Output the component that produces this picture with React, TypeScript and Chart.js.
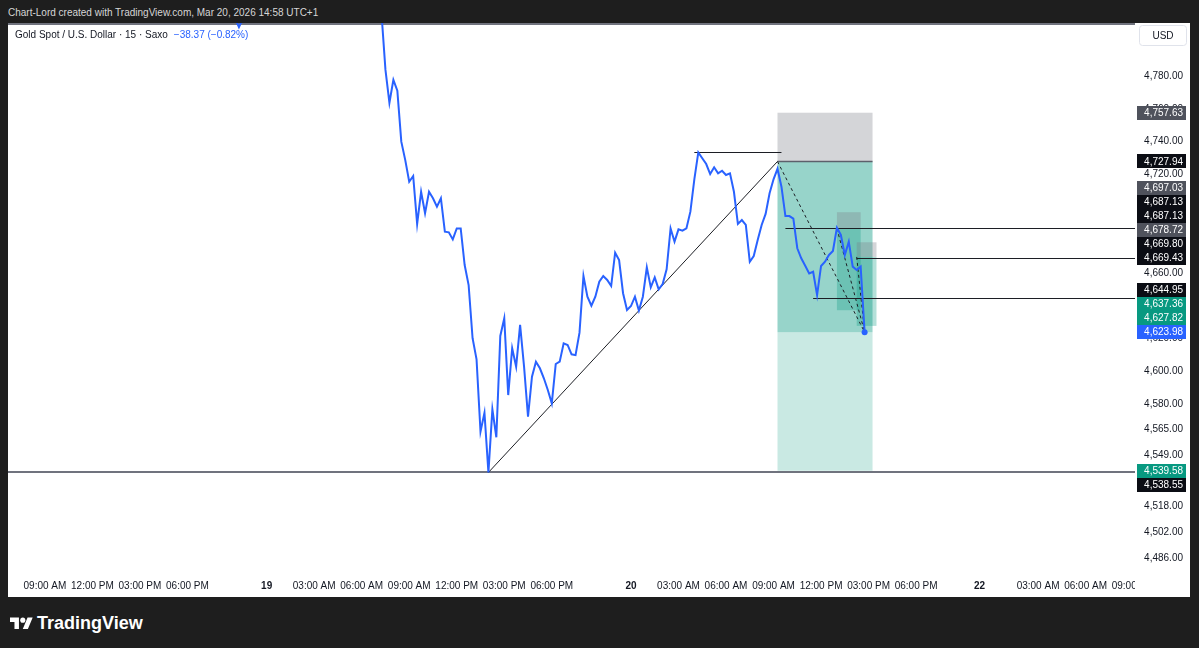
import React, { useEffect, useRef } from "react";
import { Chart, registerables } from "chart.js";

Chart.register(...registerables);

const FONT = '"Liberation Sans", Arial, sans-serif';

// ---------- series: 15-minute closes (hours counted from Mar 19 00:00, trading hours) ----------
const barStartHour = 7.25;
const barStepHours = 0.25;
const closes = [
  4818, 4783.7, 4763.7, 4777.6, 4771.0, 4740.0, 4728.8, 4715.6, 4719.1, 4689.9,
  4709.5, 4696.4, 4709.5, 4705.5, 4700.4, 4705.5, 4685.2, 4684.8, 4680.5, 4687.2,
  4687.2, 4664.9, 4652.7, 4620.3, 4607.5, 4563.4, 4574.9, 4538.6, 4577.0, 4560.0,
  4621.7, 4632.4, 4585.7, 4614.2, 4603.0, 4628.4, 4603.0, 4572.5, 4596.9, 4606.0,
  4602.0, 4595.9, 4588.8, 4580.7, 4604.6, 4606.0, 4617.2, 4616.2, 4610.5, 4610.0,
  4623.7, 4658.2, 4645.6, 4640.1, 4645.6, 4654.7, 4658.2, 4655.8, 4652.1, 4672.4,
  4667.9, 4647.7, 4637.5, 4639.9, 4645.6, 4637.1, 4645.6, 4663.5, 4651.3, 4657.4,
  4650.1, 4653.3, 4662.3, 4687.2, 4679.1, 4686.6, 4685.8, 4687.2, 4697.4, 4717.1,
  4733.5, 4729.9, 4726.4, 4720.3, 4724.4, 4720.7, 4722.3, 4719.7, 4720.7, 4709.5,
  4689.9, 4692.3, 4689.3, 4666.9, 4670.4, 4680.1, 4689.3, 4696.0, 4708.6, 4717.1,
  4723.5, 4712.6, 4694.7, 4694.7, 4693.1, 4675.1, 4669.0, 4664.5, 4659.8, 4660.8,
  4646.6, 4664.3, 4666.9, 4671.0, 4673.4, 4687.6, 4683.2, 4671.0, 4679.1, 4663.9,
  4661.9, 4663.9, 4623.98,
];
// earlier part of the line, above the visible price range
const preHours = [-16.5, -12.0, -8.5, -5.0, -2.5, -1.75, -1.0, 1.5, 4.0, 6.5];
const prePrices = [4868, 4880, 4862, 4848, 4826, 4809.8, 4825, 4852, 4846, 4832];

// ---------- axes ----------
const xMinHour = -16.33;
const xMaxHour = 54.82;
const yMinPrice = 4477.93;
const yMaxPrice = 4812.28;
const priceTicks = [4780, 4760, 4740, 4720, 4700, 4680, 4660, 4640, 4620, 4600, 4580, 4565, 4549, 4534, 4518, 4502, 4486];
const timeTickHours = [-14, -11, -8, -5, 0, 3, 6, 9, 12, 15, 18, 23, 26, 29, 32, 35, 38, 41, 45.0, 48.7, 51.7, 54.7];
const timeTickLabels = [
  "09:00 AM", "12:00 PM", "03:00 PM", "06:00 PM", "19",
  "03:00 AM", "06:00 AM", "09:00 AM", "12:00 PM", "03:00 PM", "06:00 PM", "20",
  "03:00 AM", "06:00 AM", "09:00 AM", "12:00 PM", "03:00 PM", "06:00 PM", "22",
  "03:00 AM", "06:00 AM", "09:00 AM",
];

// ---------- price-axis tags ----------
const tagPrices = [4757.63, 4727.94, 4697.03, 4687.13, 4687.13, 4678.72, 4669.8, 4669.43, 4644.95, 4637.36, 4627.82, 4623.98, 4539.58, 4538.55];
const tagKinds = ["stop", "entry", "stop", "entry", "line", "stop", "entry", "line", "line", "target", "target", "last", "target", "line"];
const tagPinned = [false, false, false, false, false, false, false, false, false, false, false, true, true, false];

// ---------- drawings ----------
const toolLeftHours = [32.25, 36.0, 37.25];
const toolRightHours = [38.25, 37.5, 38.5];
const toolStops = [4757.63, 4697.03, 4678.72];
const toolEntries = [4727.94, 4687.13, 4669.8];
const toolTargets = [4539.58, 4637.36, 4627.82];
const rayPrices = [4687.13, 4669.43, 4644.95];
const rayStartHours = [32.75, 37.25, 34.5];
const hLinePrices = [4538.55, 4811.6];
const trendHours = [14.0, 32.25];
const trendPrices = [4538.55, 4727.94];
const peakLineHours = [27.0, 32.5];
const peakLinePrice = 4733.5;

const KIND_COLORS: Record<string, string> = {
  stop: "#4f525c",
  entry: "#0b0d14",
  line: "#0b0d14",
  target: "#089981",
  last: "#2962ff",
};

const fmt = (v: number) =>
  v.toLocaleString("en-US", { minimumFractionDigits: 2, maximumFractionDigits: 2 });

const drawingsPlugin = {
  id: "drawings",
  beforeDatasetsDraw(chart: any) {
    const { ctx, chartArea: a, scales } = chart;
    const X = (h: number) => scales.x.getPixelForValue(h);
    const Y = (p: number) => scales.y.getPixelForValue(p);
    const last = closes[closes.length - 1];
    ctx.save();
    ctx.beginPath();
    ctx.rect(a.left, a.top, a.right - a.left, a.bottom - a.top);
    ctx.clip();

    // position tools
    for (let i = 0; i < toolLeftHours.length; i++) {
      const l = X(toolLeftHours[i]);
      const r = X(toolRightHours[i]);
      const ys = Y(toolStops[i]);
      const ye = Y(toolEntries[i]);
      const yt = Y(toolTargets[i]);
      if (i === 0) {
        ctx.fillStyle = "rgba(120,123,134,0.32)";
        ctx.fillRect(l, ys, r - l, ye - ys);
        const yl = Y(last);
        ctx.fillStyle = "rgba(8,153,129,0.42)";
        ctx.fillRect(l, ye, r - l, yl - ye);
        ctx.fillStyle = "rgba(8,153,129,0.22)";
        ctx.fillRect(l, yl, r - l, yt - yl);
      } else {
        ctx.fillStyle = "rgba(120,123,134,0.32)";
        ctx.fillRect(l, ys, r - l, ye - ys);
        ctx.fillStyle = "rgba(8,153,129,0.3)";
        ctx.fillRect(l, ye, r - l, yt - ye);
      }
    }
    // main entry line
    ctx.strokeStyle = "#5d606b";
    ctx.lineWidth = 1.5;
    ctx.beginPath();
    ctx.moveTo(X(toolLeftHours[0]), Y(toolEntries[0]));
    ctx.lineTo(X(toolRightHours[0]), Y(toolEntries[0]));
    ctx.stroke();

    // horizontal lines
    ctx.strokeStyle = "#70737e";
    ctx.lineWidth = 2;
    hLinePrices.forEach((p) => {
      ctx.beginPath();
      ctx.moveTo(a.left, Math.round(Y(p)));
      ctx.lineTo(a.right, Math.round(Y(p)));
      ctx.stroke();
    });

    // rays
    ctx.strokeStyle = "#1c1e24";
    ctx.lineWidth = 1;
    rayPrices.forEach((p, i) => {
      const yy = Math.round(Y(p)) + 0.5;
      ctx.beginPath();
      ctx.moveTo(X(rayStartHours[i]), yy);
      ctx.lineTo(a.right, yy);
      ctx.stroke();
    });

    // peak line
    ctx.beginPath();
    const yp = Math.round(Y(peakLinePrice)) + 0.5;
    ctx.moveTo(X(peakLineHours[0]), yp);
    ctx.lineTo(X(peakLineHours[1]), yp);
    ctx.stroke();

    // trend line
    ctx.beginPath();
    ctx.moveTo(X(trendHours[0]), Y(trendPrices[0]));
    ctx.lineTo(X(trendHours[1]), Y(trendPrices[1]));
    ctx.stroke();

    // dashed lines from entries to the last close
    const lastHour = barStartHour + (closes.length - 1) * barStepHours;
    ctx.setLineDash([3, 3]);
    for (let i = 0; i < toolLeftHours.length; i++) {
      ctx.beginPath();
      ctx.moveTo(X(toolLeftHours[i]), Y(toolEntries[i]));
      ctx.lineTo(X(lastHour), Y(last));
      ctx.stroke();
    }
    ctx.setLineDash([]);
    ctx.restore();
  },
  afterDraw(chart: any) {
    const { ctx, chartArea: a, scales, width } = chart;
    const X = (h: number) => scales.x.getPixelForValue(h);
    const Y = (p: number) => scales.y.getPixelForValue(p);
    ctx.save();
    const textRight = width - 7;

    // price ticks
    ctx.font = `10px ${FONT}`;
    ctx.fillStyle = "#131722";
    ctx.textAlign = "right";
    ctx.textBaseline = "middle";
    priceTicks.forEach((p) => {
      ctx.fillText(fmt(p), textRight, Y(p));
    });

    // tags with collision handling
    const H = 14;
    const placed: { y: number; i: number }[] = [];
    tagPrices.forEach((p, i) => {
      if (tagPinned[i]) placed.push({ y: Y(p), i });
    });
    const order = tagPrices
      .map((p, i) => i)
      .filter((i) => !tagPinned[i])
      .sort((m, n) => Y(tagPrices[n]) - Y(tagPrices[m]));
    order.forEach((i) => {
      const desired = Y(tagPrices[i]);
      let y = desired;
      let dir = 0;
      for (let k = 0; k < 60; k++) {
        let near: any = null;
        placed.forEach((q) => {
          if (Math.abs(q.y - y) < H - 0.01 && (!near || Math.abs(q.y - y) < Math.abs(near.y - y))) near = q;
        });
        if (!near) break;
        if (dir === 0) dir = desired <= near.y ? -1 : 1;
        y = near.y + dir * H;
      }
      placed.push({ y, i });
    });
    const boxL = a.right + 2;
    const boxR = width - 4;
    placed.forEach(({ y, i }) => {
      ctx.fillStyle = KIND_COLORS[tagKinds[i]];
      ctx.fillRect(boxL, Math.round(y - H / 2), boxR - boxL, H);
      ctx.fillStyle = "#ffffff";
      ctx.fillText(fmt(tagPrices[i]), textRight, y + 0.5);
    });

    // USD box
    ctx.strokeStyle = "#e0e3eb";
    ctx.lineWidth = 1;
    ctx.fillStyle = "#ffffff";
    const bx = a.right + 4.5, by = 2.5, bw = 47, bh = 20;
    ctx.beginPath();
    if ((ctx as any).roundRect) (ctx as any).roundRect(bx, by, bw, bh, 3);
    else ctx.rect(bx, by, bw, bh);
    ctx.fill();
    ctx.stroke();
    ctx.fillStyle = "#131722";
    ctx.textAlign = "center";
    ctx.fillText("USD", bx + bw / 2, by + bh / 2 + 0.5);

    // time axis labels
    ctx.save();
    ctx.beginPath();
    ctx.rect(a.left, a.bottom, a.right - a.left, 30);
    ctx.clip();
    ctx.textAlign = "center";
    ctx.fillStyle = "#131722";
    timeTickHours.forEach((h, i) => {
      const lab = timeTickLabels[i];
      ctx.font = lab.includes(":") ? `10px ${FONT}` : `bold 10px ${FONT}`;
      ctx.fillText(lab, X(h), a.bottom + 14);
    });
    ctx.restore();
    ctx.restore();
  },
};

function PriceChart() {
  const ref = useRef<HTMLCanvasElement | null>(null);
  useEffect(() => {
    if (!ref.current) return;
    const points = [
      ...preHours.map((h, i) => ({ x: h, y: prePrices[i] })),
      ...closes.map((c, i) => ({ x: barStartHour + i * barStepHours, y: c })),
    ];
    const lastIdx = points.length - 1;
    const chart = new Chart(ref.current, {
      type: "line",
      data: {
        datasets: [
          {
            data: points,
            borderColor: "#2962ff",
            borderWidth: 2,
            tension: 0,
            pointRadius: (c: any) => (c.dataIndex === lastIdx ? 3 : 0),
            pointBackgroundColor: "#2962ff",
            pointBorderWidth: 0,
            fill: false,
          },
        ],
      },
      options: {
        responsive: false,
        animation: false,
        devicePixelRatio: 1,
        events: [],
        parsing: false,
        layout: { autoPadding: false, padding: { left: 0, right: 55, top: 0, bottom: 25 } },
        plugins: { legend: { display: false }, tooltip: { enabled: false } },
        scales: {
          x: { type: "linear", display: false, min: xMinHour, max: xMaxHour },
          y: { type: "linear", display: false, min: yMinPrice, max: yMaxPrice },
        },
      } as any,
      plugins: [drawingsPlugin as any],
    });
    return () => chart.destroy();
  }, []);
  return <canvas ref={ref} width={1182} height={574} style={{ display: "block" }} />;
}

export default function App() {
  return (
    <div
      style={{
        position: "fixed",
        left: 0,
        top: 0,
        width: 1199,
        height: 648,
        background: "#1e1e1e",
        overflow: "hidden",
        fontFamily: FONT,
      }}
    >
      <div
        style={{
          position: "absolute",
          left: 8,
          top: 7,
          fontSize: 10,
          lineHeight: "12px",
          color: "#d6d6d6",
          whiteSpace: "nowrap",
        }}
      >
        Chart-Lord created with TradingView.com, Mar 20, 2026 14:58 UTC+1
      </div>
      <div
        style={{
          position: "absolute",
          left: 8,
          top: 23,
          width: 1182,
          height: 574,
          background: "#ffffff",
        }}
      >
        <PriceChart />
        <div
          style={{
            position: "absolute",
            left: 7,
            top: 6,
            fontSize: 10,
            lineHeight: "12px",
            color: "#131722",
            whiteSpace: "nowrap",
          }}
        >
          Gold Spot / U.S. Dollar · 15 · Saxo
          <span style={{ color: "#2962ff", marginLeft: 6 }}>−38.37 (−0.82%)</span>
        </div>
      </div>
      <svg
        style={{ position: "absolute", left: 10, top: 615 }}
        width={23}
        height={18}
        viewBox="0 0 36 28"
      >
        <path d="M14 22H7V11H0V4h14v18zM28 22h-8l7.5-18h8L28 22z" fill="#ffffff" />
        <circle cx={20} cy={8} r={4} fill="#ffffff" />
      </svg>
      <div
        style={{
          position: "absolute",
          left: 37,
          top: 612,
          fontSize: 18,
          lineHeight: "22px",
          fontWeight: 700,
          color: "#ffffff",
          whiteSpace: "nowrap",
        }}
      >
        TradingView
      </div>
    </div>
  );
}
